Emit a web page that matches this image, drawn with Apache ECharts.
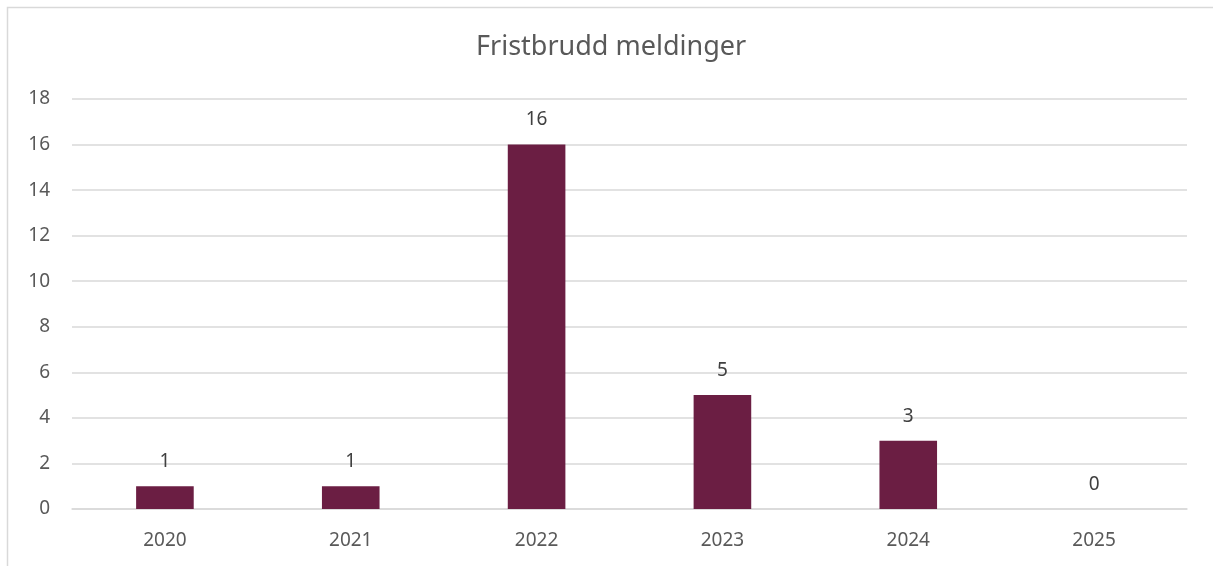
<!DOCTYPE html>
<html>
<head>
<meta charset="utf-8">
<script src="https://cdn.jsdelivr.net/npm/echarts@6/dist/echarts.min.js"></script>
<style>
html,body{margin:0;padding:0;background:#fff;}
#c{width:1213px;height:566px;}
</style>
</head>
<body>
<div id="c"></div>
<script>
const titleText = "Fristbrudd meldinger";
const categories = ["2020", "2021", "2022", "2023", "2024", "2025"];
const values = [1, 1, 16, 5, 3, 0];
const yMin = 0, yMax = 18, yStep = 2;

const chart = echarts.init(document.getElementById('c'), null, {renderer: 'canvas'});
const font = '"Noto Sans", "Open Sans", sans-serif';
chart.setOption({
  animation: false,
  backgroundColor: '#fff',
  textStyle: {fontFamily: font},
  title: {
    text: titleText,
    left: 476,
    top: 34,
    padding: 0,
    textStyle: {fontFamily: font, fontSize: 27, fontWeight: 'normal', color: '#595959'}
  },
  graphic: [{
    type: 'polyline',
    shape: {points: [[7.5, 566], [7.5, 7.5], [1213, 7.5]]},
    style: {stroke: '#D9D9D9', lineWidth: 1.5, fill: null},
    silent: true
  }],
  grid: {left: 72, right: 26, top: 99, bottom: 57, containLabel: false},
  xAxis: {
    type: 'category',
    data: categories,
    axisLine: {show: true, lineStyle: {color: '#D9D9D9', width: 1.5}},
    axisTick: {show: false},
    axisLabel: {color: '#595959', fontSize: 19, margin: 22, fontFamily: font}
  },
  yAxis: {
    type: 'value',
    min: yMin, max: yMax, interval: yStep,
    axisLine: {show: false},
    axisTick: {show: false},
    splitLine: {lineStyle: {color: '#D9D9D9', width: 1.5}},
    axisLabel: {color: '#595959', fontSize: 19, margin: 22, fontFamily: font}
  },
  series: [{
    type: 'bar',
    data: values,
    barWidth: '31%',
    itemStyle: {color: '#6B1E43'},
    label: {show: true, position: 'top', distance: 15, color: '#404040', fontSize: 19, fontFamily: font}
  }]
});
</script>
</body>
</html>
